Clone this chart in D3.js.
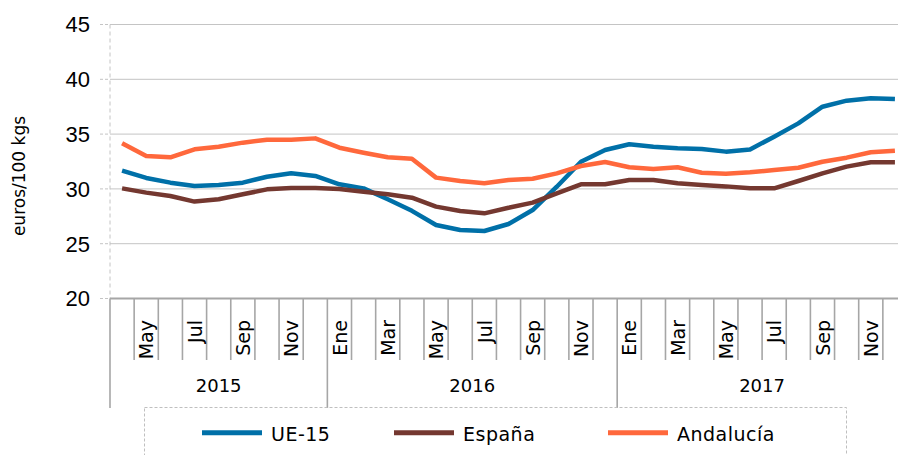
<!DOCTYPE html>
<html>
<head>
<meta charset="utf-8">
<script src="https://cdn.jsdelivr.net/npm/d3@7"></script>
<style>
  body { margin: 0; background: #fff; }
  svg { display: block; font-family: "Century Gothic", "DejaVu Sans", sans-serif; }
</style>
</head>
<body>
<div id="chart"></div>
<script>
const width = 898, height = 455;

// months from Abr 2015 to Dic 2017
const months = ["Abr","May","Jun","Jul","Ago","Sep","Oct","Nov","Dic",
  "Ene","Feb","Mar","Abr","May","Jun","Jul","Ago","Sep","Oct","Nov","Dic",
  "Ene","Feb","Mar","Abr","May","Jun","Jul","Ago","Sep","Oct","Nov","Dic"];
const years = ["2015", "2016", "2017"];
const monthsPerYear = [9, 12, 12];
const yTicks = [20, 25, 30, 35, 40, 45];

const ue15 = [31.66, 31.0, 30.57, 30.26, 30.36, 30.57, 31.11, 31.42, 31.18,
  30.42, 30.05, 29.05, 28.0, 26.71, 26.25, 26.16, 26.8, 28.07, 30.2, 32.48, 33.55,
  34.07, 33.85, 33.7, 33.64, 33.4, 33.6, 34.76, 35.98, 37.5, 38.05, 38.27, 38.2];
const espana = [30.05, 29.66, 29.35, 28.84, 29.05, 29.51, 29.96, 30.08, 30.08,
  29.99, 29.75, 29.51, 29.2, 28.38, 27.98, 27.77, 28.28, 28.75, 29.6, 30.42, 30.42,
  30.81, 30.81, 30.51, 30.36, 30.23, 30.05, 30.05, 30.72, 31.42, 32.03, 32.43, 32.43];
const andalucia = [34.16, 33.0, 32.88, 33.61, 33.85, 34.22, 34.49, 34.49, 34.61,
  33.76, 33.3, 32.88, 32.76, 31.03, 30.72, 30.51, 30.81, 30.92, 31.42, 32.09, 32.45,
  31.97, 31.82, 31.97, 31.48, 31.39, 31.51, 31.72, 31.93, 32.48, 32.85, 33.34, 33.49];

const series = [
  { name: "UE-15", values: ue15, color: "#0070a8" },
  { name: "España", values: espana, color: "#743830" },
  { name: "Andalucía", values: andalucia, color: "#ff683c" }
];

const plotLeft = 110, plotRight = 907, plotTop = 24.5, plotBottom = 298.5;
const axisGrey = "#a6a6a6", gridGrey = "#c4c4c4";

const x = d3.scaleBand().domain(d3.range(months.length)).range([plotLeft, plotRight]);
const y = d3.scaleLinear().domain([20, 45]).range([plotBottom, plotTop]);

const svg = d3.select("#chart").append("svg")
  .attr("width", width).attr("height", height);

// grid lines
svg.append("g").selectAll("line").data(yTicks.filter(d => d > 20)).join("line")
  .attr("x1", plotLeft).attr("x2", plotRight)
  .attr("y1", d => y(d)).attr("y2", d => y(d))
  .attr("stroke", gridGrey).attr("stroke-width", 1);

// y axis (dashed)
svg.append("line")
  .attr("x1", plotLeft).attr("x2", plotLeft).attr("y1", plotTop).attr("y2", plotBottom)
  .attr("stroke", gridGrey).attr("stroke-dasharray", "4,3");
svg.append("g").selectAll("line").data(yTicks).join("line")
  .attr("x1", plotLeft - 10).attr("x2", plotLeft)
  .attr("y1", d => y(d)).attr("y2", d => y(d))
  .attr("stroke", gridGrey).attr("stroke-dasharray", "3,2");
svg.append("g").selectAll("text").data(yTicks).join("text")
  .attr("x", 90).attr("y", d => y(d)).attr("dy", "0.36em")
  .attr("text-anchor", "end")
  .style("font-family", "'Liberation Sans', Arial, sans-serif")
  .attr("font-size", "22px").attr("fill", "#000")
  .text(d => d);

svg.append("text")
  .attr("transform", "translate(25,176) rotate(-90)")
  .attr("text-anchor", "middle")
  .attr("font-size", "17px").attr("fill", "#000")
  .text("euros/100 kgs");

// x axis: month ticks at band edges
const edges = d3.range(months.length + 1).map(i => plotLeft + i * x.bandwidth());
const yearStarts = [0];
monthsPerYear.forEach((n, i) => yearStarts.push(yearStarts[i] + n));

svg.append("g").selectAll("line").data(edges).join("line")
  .attr("x1", d => d).attr("x2", d => d)
  .attr("y1", plotBottom)
  .attr("y2", (d, i) => yearStarts.includes(i) ? 408 : 360)
  .attr("stroke", axisGrey).attr("stroke-width", 1.6);

svg.append("line")
  .attr("x1", plotLeft).attr("x2", plotRight).attr("y1", plotBottom).attr("y2", plotBottom)
  .attr("stroke", axisGrey).attr("stroke-width", 2);

svg.append("g").selectAll("text")
  .data(months.map((m, i) => ({ m, i })).filter(d => d.i % 2 === 1))
  .join("text")
  .attr("transform", d => `translate(${x(d.i) + x.bandwidth() / 2},320) rotate(-90)`)
  .attr("dy", "0.38em")
  .attr("text-anchor", "end")
  .attr("font-size", "19px").attr("fill", "#000")
  .text(d => d.m);

svg.append("g").selectAll("text").data(years).join("text")
  .attr("x", (d, i) => (edges[yearStarts[i]] + edges[yearStarts[i + 1]]) / 2)
  .attr("y", 391.5)
  .attr("text-anchor", "middle")
  .attr("font-size", "18px").attr("fill", "#000")
  .text(d => d);

// lines
const line = d3.line()
  .x((d, i) => x(i) + x.bandwidth() / 2)
  .y(d => y(d));

svg.append("g").selectAll("path").data(series).join("path")
  .attr("d", d => line(d.values))
  .attr("fill", "none")
  .attr("stroke", d => d.color)
  .attr("stroke-width", 4.5)
  .attr("stroke-linejoin", "round");

// legend
svg.append("rect")
  .attr("x", 144.5).attr("y", 407.5).attr("width", 702).attr("height", 80)
  .attr("fill", "none").attr("stroke", "#bfbfbf").attr("stroke-dasharray", "3,2");

const legendX = [202, 394, 608];
const lg = svg.append("g").selectAll("g").data(series).join("g")
  .attr("transform", (d, i) => `translate(${legendX[i]},0)`);
lg.append("line")
  .attr("x1", 0).attr("x2", 60).attr("y1", 432.7).attr("y2", 432.7)
  .attr("stroke", d => d.color).attr("stroke-width", 5);
lg.append("text")
  .attr("x", 69).attr("y", 440.7)
  .attr("font-size", "19px").attr("fill", "#000")
  .attr("letter-spacing", "0.5px")
  .text(d => d.name);
</script>
</body>
</html>
